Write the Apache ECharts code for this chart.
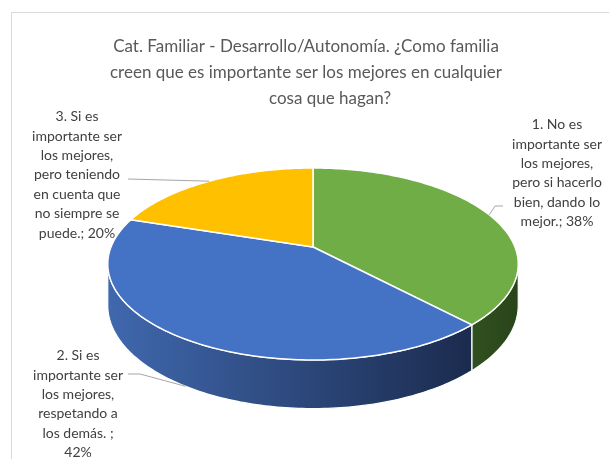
<!DOCTYPE html>
<html>
<head>
<meta charset="utf-8">
<script src="https://cdn.jsdelivr.net/npm/echarts@6/dist/echarts.min.js"></script>
<style>
  html, body { margin: 0; padding: 0; background: #fff; }
  #chart { width: 609px; height: 459px; }
</style>
</head>
<body>
<div id="chart"></div>
<script>
// datos del gráfico
var categories = [
    '1. No es\nimportante ser\nlos mejores,\npero si hacerlo\nbien, dando lo\nmejor.; {p}',
    '2. Si es\nimportante ser\nlos mejores,\nrespetando a\nlos demás. ;\n{p}',
    '3. Si es\nimportante ser\nlos mejores,\npero teniendo\nen cuenta que\nno siempre se\npuede.; {p}'
];
var values = [38, 42, 20];
var titleLines = [
    'Cat. Familiar - Desarrollo/Autonomía. ¿Como familia',
    'creen que es importante ser los mejores en cualquier',
    'cosa que hagan?'
];

var topColors = ['#70AD47', '#4472C4', '#FFC000'];
var sideColors = [
    ['#30511F', '#29441A'],
    ['#4068AE', '#1B2B4E'],
    ['#a07800', '#806000']
];
// posicion de las etiquetas (centro x, arriba y) y codo de la linea guia
var labelLayout = [
    {x: 557, y: 115, line: [[503, 206], [495, 206]], side: false},
    {x: 78, y: 346, line: [[128, 374], [140, 374]], side: true},
    {x: 77, y: 107, line: [[128, 179]], side: false}
];

// geometria del pastel 3D (perspectiva simple)
var CX = 313, CY = 247, RX = 202, RY = 93, K = 0.177, H = 40;
var total = values.reduce(function (a, b) { return a + b; }, 0);
var visFrom = Math.acos(-K) * 180 / Math.PI;   // ~100 grados
var visTo = 360 - visFrom;

function proj(phi, dz) {
    var r = phi * Math.PI / 180;
    var X = Math.sin(r), Z = -Math.cos(r);
    var p = 1 / (1 - K * Z);
    return [CX + RX * X * p, CY + RY * Z * p + (dz || 0) * p];
}

function arc(a0, a1, dz) {
    var pts = [];
    var n = Math.max(2, Math.ceil(Math.abs(a1 - a0)));
    for (var k = 0; k <= n; k++) {
        pts.push(proj(a0 + (a1 - a0) * k / n, dz));
    }
    return pts;
}

function renderItem(params, api) {
    var i = params.dataIndex;
    var before = 0;
    for (var j = 0; j < i; j++) before += values[j];
    var a0 = before / total * 360;
    var a1 = (before + api.value(0)) / total * 360;
    var children = [];

    // cara lateral
    var s = Math.max(a0, visFrom), e = Math.min(a1, visTo);
    if (e > s) {
        var topArc = arc(s, e, 0);
        var botArc = arc(e, s, H);
        var xs = topArc.concat(botArc).map(function (p) { return p[0]; });
        children.push({
            type: 'polygon',
            shape: {points: topArc.concat(botArc)},
            style: {
                fill: {
                    type: 'linear', global: true,
                    x: Math.min.apply(null, xs), y: 0,
                    x2: Math.max.apply(null, xs), y2: 0,
                    colorStops: [
                        {offset: 0, color: sideColors[i][0]},
                        {offset: 1, color: sideColors[i][1]}
                    ]
                },
                stroke: '#ffffff', lineWidth: 1.2
            },
            z2: 1
        });
    }

    // cara superior
    children.push({
        type: 'polygon',
        shape: {points: [[CX, CY]].concat(arc(a0, a1, 0))},
        style: {fill: topColors[i], stroke: '#ffffff', lineWidth: 1.5},
        z2: 2
    });

    // linea guia y etiqueta
    var lay = labelLayout[i];
    var mid = (a0 + a1) / 2;
    var anchor = proj(mid, lay.side ? H : 0);
    children.push({
        type: 'polyline',
        shape: {points: lay.line.concat([anchor])},
        style: {stroke: '#a6a6a6', lineWidth: 1, fill: null},
        z2: 3
    });
    children.push({
        type: 'text',
        x: lay.x, y: lay.y,
        style: {
            text: categories[i].replace('{p}', api.value(0) + '%'),
            align: 'center', verticalAlign: 'top',
            fill: '#404040', fontSize: 14, lineHeight: 19.4,
            fontFamily: 'Lato'
        },
        z2: 4
    });
    return {type: 'group', children: children};
}

var myChart = echarts.init(document.getElementById('chart'));
var option = {
    animation: false,
    backgroundColor: '#ffffff',
    graphic: [
        {
            type: 'rect',
            shape: {x: 11.5, y: 12.5, width: 640, height: 480},
            style: {fill: 'none', stroke: '#d9d9d9', lineWidth: 1},
            z: -1
        },
        {
            type: 'text', x: 306, y: 34,
            style: {
                text: titleLines[0] + '\n' + titleLines[1],
                align: 'center', verticalAlign: 'top',
                fill: '#595959', fontSize: 17, lineHeight: 26, fontFamily: 'Lato'
            }
        },
        {
            type: 'text', x: 330, y: 86,
            style: {
                text: titleLines[2],
                align: 'center', verticalAlign: 'top',
                fill: '#595959', fontSize: 17, lineHeight: 26, fontFamily: 'Lato'
            }
        }
    ],
    series: [
        {
            type: 'custom',
            coordinateSystem: 'none',
            renderItem: renderItem,
            data: values.map(function (v) { return [v]; })
        }
    ]
};
myChart.setOption(option);
</script>
</body>
</html>
